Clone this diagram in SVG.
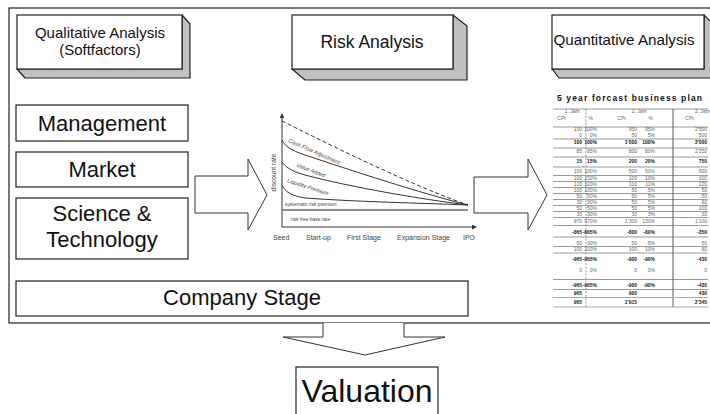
<svg xmlns="http://www.w3.org/2000/svg" width="710" height="414" viewBox="0 0 710 414">
<style>
.f{font-family:"Liberation Sans",Arial,sans-serif;fill:#111}
.box{fill:#fff;stroke:#222;stroke-width:1.2}
.side{fill:#c0c0c0;stroke:#222;stroke-width:1.2;stroke-linejoin:round}
.arr{fill:#fff;stroke:#333;stroke-width:1}
.ln{stroke:#333;stroke-width:1;fill:none}
.cl{font-family:"Liberation Sans",Arial,sans-serif;fill:#444}
.tb{font-family:"Liberation Sans",Arial,sans-serif;font-size:5px;fill:#666;text-anchor:end}
.tbb{font-family:"Liberation Sans",Arial,sans-serif;font-size:5px;fill:#222;font-weight:bold;text-anchor:end}
.hl{stroke:#555;stroke-width:0.6}
</style>
<defs>
<marker id="ah" viewBox="0 0 6 6" refX="5" refY="3" markerWidth="5" markerHeight="5" orient="auto">
<path d="M0,0 L6,3 L0,6 Z" fill="#333"/>
</marker>
</defs>
<rect x="9" y="8" width="705" height="315" fill="none" stroke="#222" stroke-width="1.2"/>

<g id="qualitative">
<polygon class="side" points="182,15 190,24 190,78 25,78 17,69 182,69"/>
<rect class="box" x="17" y="15" width="165" height="54"/>
<text class="f" x="100" y="38" font-size="15" text-anchor="middle">Qualitative Analysis</text>
<text class="f" x="100" y="55" font-size="15" text-anchor="middle">(Softfactors)</text>
</g>
<g id="risk">
<polygon class="side" points="453,15 467,26 467,80 305,80 292,69 453,69"/>
<rect class="box" x="292" y="15" width="161" height="54"/>
<text class="f" x="372" y="48" font-size="17.5" text-anchor="middle">Risk Analysis</text>
</g>
<g id="quantitative">
<polygon class="side" points="704,15 711,22 711,78 559,78 552,69 704,69"/>
<rect class="box" x="552" y="15" width="152" height="54"/>
<text class="f" x="624" y="45" font-size="15.2" text-anchor="middle">Quantitative Analysis</text>
</g>

<g id="management">
<rect class="box" x="16" y="105" width="172" height="36"/>
<text class="f" x="102" y="131" font-size="22" text-anchor="middle">Management</text>
</g>
<g id="market">
<rect class="box" x="16" y="152" width="172" height="35"/>
<text class="f" x="102" y="177" font-size="22" text-anchor="middle">Market</text>
</g>
<g id="science">
<rect class="box" x="16" y="198" width="172" height="61"/>
<text class="f" x="102" y="221" font-size="22" text-anchor="middle">Science &amp;</text>
<text class="f" x="102" y="247" font-size="22" text-anchor="middle">Technology</text>
</g>
<g id="company-stage">
<rect class="box" x="16" y="281" width="452" height="35"/>
<text class="f" x="242" y="305" font-size="22" text-anchor="middle">Company Stage</text>
</g>
<g id="valuation">
<rect class="box" x="296" y="367" width="142" height="52"/>
<text class="f" x="367" y="402" font-size="32" text-anchor="middle">Valuation</text>
</g>

<g id="connectors">
<path class="arr" d="M195,176 L248,176 L248,159 L267,195 L248,230 L248,213 L195,213 Z"/>
<path class="arr" d="M474,177 L528,177 L528,159 L547,195 L528,230 L528,213 L474,213 Z"/>
<path class="arr" d="M323,323 L323,337 L283,337 L365,355 L445,337 L404,337 L404,323"/>
</g>

<g id="chart">
<line class="ln" x1="282" y1="227" x2="282" y2="114" marker-end="url(#ah)"/>
<line class="ln" x1="282" y1="227" x2="476" y2="227" marker-end="url(#ah)"/>
<line x1="282" y1="210" x2="468" y2="210" stroke="#666" stroke-width="1.6"/>
<path class="ln" stroke-dasharray="4,2.5" d="M282,121 C320,140 410,185 468,205"/>
<path class="ln" d="M282,140 C285,146 290,150 305,155 C350,170 420,193 468,205"/>
<path class="ln" d="M282,162 C285,166 290,171 305,175 C350,187 420,199 468,205"/>
<path class="ln" d="M282,185 C285,192 292,196 305,198 C360,202 420,203 468,205"/>
<text class="cl" font-size="5.6" font-style="italic" transform="translate(288,142) rotate(24)">Cash Flow Adjustment</text>
<text class="cl" font-size="5.4" font-style="italic" transform="translate(296,166.5) rotate(21)">Value Added</text>
<text class="cl" font-size="5.4" font-style="italic" transform="translate(287,182) rotate(18)">Liquidity Premium</text>
<text class="cl" font-size="4.8" x="285" y="206">systematic risk premium</text>
<text class="cl" font-size="4.9" x="291" y="220.5">risk free base rate</text>
<text class="cl" font-size="6.6" text-anchor="middle" transform="translate(276,172.5) rotate(-90)">discount rate</text>
<text class="cl" font-size="7" x="273" y="240">Seed</text>
<text class="cl" font-size="7" x="306" y="240">Start-up</text>
<text class="cl" font-size="7" x="347" y="240">First Stage</text>
<text class="cl" font-size="7" x="397" y="240">Expansion Stage</text>
<text class="cl" font-size="7" x="463" y="240">IPO</text>
</g>

<g id="business-plan">
<text class="f" x="557" y="101" font-size="8.5" font-weight="bold" textLength="145" lengthAdjust="spacing">5 year forcast business plan</text>
<line class="hl" x1="553" y1="109" x2="708" y2="109"/>
<line x1="586" y1="109" x2="586" y2="307" stroke="#555" stroke-width="0.6" stroke-dasharray="2,1.5"/>
<line x1="673" y1="109" x2="673" y2="307" stroke="#333" stroke-width="0.8"/>
<text class="tb" y="113"><tspan x="580">1. Jahr</tspan><tspan x="647">2. Jahr</tspan><tspan x="710">3. Jahr</tspan></text>
<text class="tb" y="120"><tspan x="567">CPr.</tspan><tspan x="593">%</tspan><tspan x="627">CPr.</tspan><tspan x="653">%</tspan><tspan x="695">CPr.</tspan></text>
<line class="hl" x1="553" y1="127" x2="708" y2="127"/>
<text class="tb" y="131"><tspan x="582">100</tspan><tspan x="597">100%</tspan><tspan x="637">950</tspan><tspan x="655">95%</tspan><tspan x="707">2'500</tspan></text>
<text class="tb" y="137"><tspan x="582">0</tspan><tspan x="597">0%</tspan><tspan x="637">50</tspan><tspan x="655">5%</tspan><tspan x="707">500</tspan></text>
<line class="hl" x1="553" y1="139" x2="708" y2="139"/>
<text class="tbb" y="144"><tspan x="582">100</tspan><tspan x="597">100%</tspan><tspan x="637">1'000</tspan><tspan x="655">100%</tspan><tspan x="707">3'000</tspan></text>
<line class="hl" x1="553" y1="148" x2="708" y2="148"/>
<text class="tb" y="153"><tspan x="582">85</tspan><tspan x="597">85%</tspan><tspan x="637">800</tspan><tspan x="655">80%</tspan><tspan x="707">2'250</tspan></text>
<line class="hl" x1="553" y1="157" x2="708" y2="157"/>
<text class="tbb" y="163"><tspan x="582">15</tspan><tspan x="597">15%</tspan><tspan x="637">200</tspan><tspan x="655">20%</tspan><tspan x="707">750</tspan></text>
<line class="hl" x1="553" y1="167" x2="708" y2="167"/>
<text class="tb" y="173"><tspan x="582">100</tspan><tspan x="597">100%</tspan><tspan x="637">500</tspan><tspan x="655">50%</tspan><tspan x="707">500</tspan></text>
<line class="hl" x1="553" y1="175.5" x2="708" y2="175.5"/>
<text class="tb" y="179.5"><tspan x="582">100</tspan><tspan x="597">100%</tspan><tspan x="637">100</tspan><tspan x="655">10%</tspan><tspan x="707">100</tspan></text>
<line class="hl" x1="553" y1="181.5" x2="708" y2="181.5"/>
<text class="tb" y="185.5"><tspan x="582">120</tspan><tspan x="597">120%</tspan><tspan x="637">110</tspan><tspan x="655">11%</tspan><tspan x="707">120</tspan></text>
<line class="hl" x1="553" y1="187.5" x2="708" y2="187.5"/>
<text class="tb" y="191.5"><tspan x="582">100</tspan><tspan x="597">100%</tspan><tspan x="637">50</tspan><tspan x="655">5%</tspan><tspan x="707">50</tspan></text>
<line class="hl" x1="553" y1="193.5" x2="708" y2="193.5"/>
<text class="tb" y="197.5"><tspan x="582">50</tspan><tspan x="597">50%</tspan><tspan x="637">50</tspan><tspan x="655">5%</tspan><tspan x="707">50</tspan></text>
<line class="hl" x1="553" y1="199.5" x2="708" y2="199.5"/>
<text class="tb" y="203.5"><tspan x="582">30</tspan><tspan x="597">30%</tspan><tspan x="637">50</tspan><tspan x="655">5%</tspan><tspan x="707">60</tspan></text>
<line class="hl" x1="553" y1="205.5" x2="708" y2="205.5"/>
<text class="tb" y="209.5"><tspan x="582">50</tspan><tspan x="597">50%</tspan><tspan x="637">50</tspan><tspan x="655">5%</tspan><tspan x="707">100</tspan></text>
<line class="hl" x1="553" y1="211.5" x2="708" y2="211.5"/>
<text class="tb" y="215.5"><tspan x="582">30</tspan><tspan x="597">30%</tspan><tspan x="637">30</tspan><tspan x="655">3%</tspan><tspan x="707">30</tspan></text>
<line class="hl" x1="553" y1="217.5" x2="708" y2="217.5"/>
<text class="tb" y="223"><tspan x="582">970</tspan><tspan x="597">970%</tspan><tspan x="637">1'300</tspan><tspan x="655">130%</tspan><tspan x="707">1'100</tspan></text>
<line class="hl" x1="553" y1="225.5" x2="708" y2="225.5"/>
<text class="tbb" y="234"><tspan x="582">-865</tspan><tspan x="597">-865%</tspan><tspan x="637">-800</tspan><tspan x="655">-80%</tspan><tspan x="707">-350</tspan></text>
<line class="hl" x1="553" y1="237" x2="708" y2="237"/>
<text class="tb" y="244.5"><tspan x="582">50</tspan><tspan x="597">30%</tspan><tspan x="637">50</tspan><tspan x="655">5%</tspan><tspan x="707">50</tspan></text>
<line class="hl" x1="553" y1="246.5" x2="708" y2="246.5"/>
<text class="tb" y="250.5"><tspan x="582">100</tspan><tspan x="597">100%</tspan><tspan x="637">100</tspan><tspan x="655">10%</tspan><tspan x="707">60</tspan></text>
<line class="hl" x1="553" y1="253" x2="708" y2="253"/>
<text class="tbb" y="261"><tspan x="582">-965</tspan><tspan x="597">-965%</tspan><tspan x="637">-900</tspan><tspan x="655">-90%</tspan><tspan x="707">-430</tspan></text>
<text class="tb" y="272"><tspan x="582">0</tspan><tspan x="597">0%</tspan><tspan x="637">0</tspan><tspan x="655">0%</tspan><tspan x="707">0</tspan></text>
<line class="hl" x1="553" y1="279.5" x2="708" y2="279.5"/>
<text class="tbb" y="287"><tspan x="582">-965</tspan><tspan x="597">-965%</tspan><tspan x="637">-900</tspan><tspan x="655">-90%</tspan><tspan x="707">-430</tspan></text>
<line class="hl" x1="553" y1="289.5" x2="708" y2="289.5"/>
<text class="tbb" y="295"><tspan x="582">965</tspan><tspan x="637">900</tspan><tspan x="707">430</tspan></text>
<line x1="553" y1="297.5" x2="708" y2="297.5" stroke="#aaa" stroke-width="1.2"/>
<text class="tbb" y="304"><tspan x="582">965</tspan><tspan x="637">1'915</tspan><tspan x="707">2'345</tspan></text>
<line x1="553" y1="307" x2="708" y2="307" stroke="#aaa" stroke-width="1.2"/>
</g>
</svg>
